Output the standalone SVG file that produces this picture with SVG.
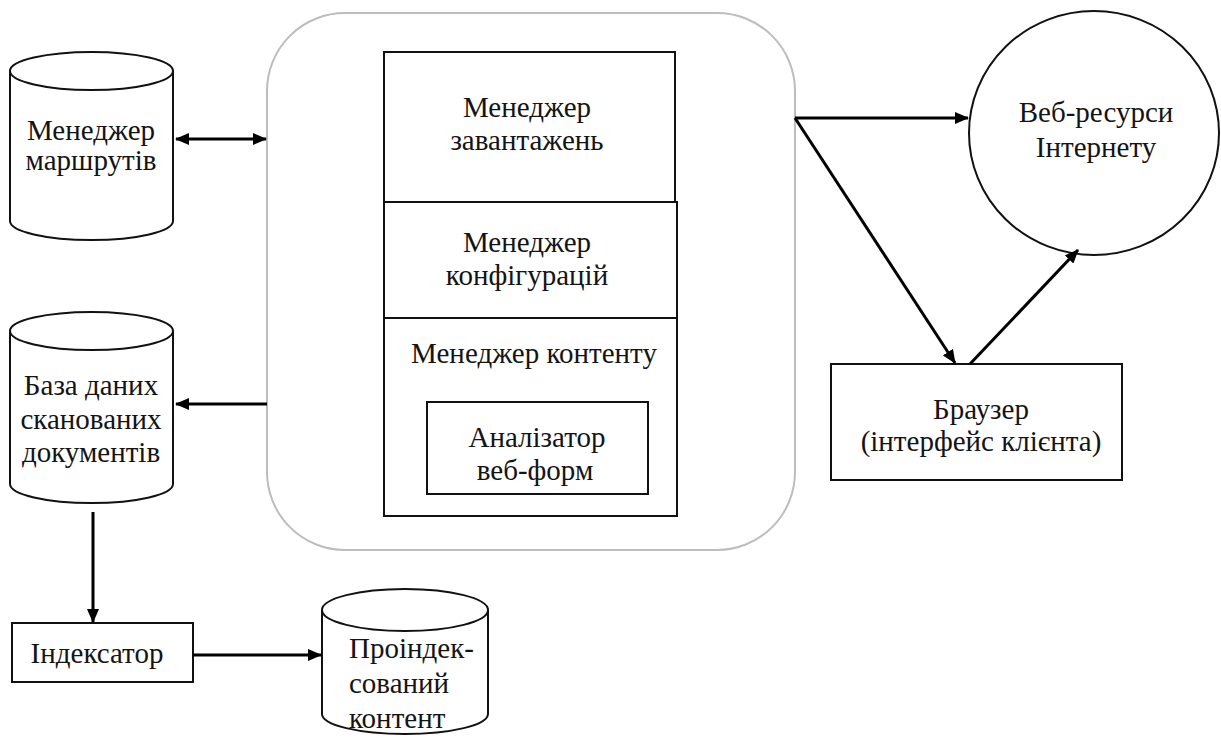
<svg xmlns="http://www.w3.org/2000/svg" width="1221" height="738" viewBox="0 0 1221 738">
  <style>
    .shape { fill: #ffffff; stroke: #111111; stroke-width: 2; }
    .frame { fill: #ffffff; stroke: #bdbdbd; stroke-width: 2; }
    .lbl { font-family: 'Liberation Serif', 'Times New Roman', 'DejaVu Serif', serif; font-size: 29px; fill: #141414; text-anchor: middle; }
    .lbl-left { text-anchor: start; }
    .edge { fill: none; stroke: #000000; stroke-width: 3; }
  </style>
  <defs>
    <marker id="arrow" viewBox="0 0 14 12" markerUnits="userSpaceOnUse" markerWidth="14" markerHeight="12" refX="13" refY="6" orient="auto-start-reverse">
      <path d="M0,0 L14,6 L0,12 z" fill="#000000"/>
    </marker>
  </defs>

  <!-- Route manager storage -->
  <g id="route-manager">
    <path class="shape" d="M10,71 L10,221 A81.5,19 0 0 0 173,221 L173,71"/>
    <ellipse class="shape" cx="91.5" cy="71" rx="81.5" ry="19"/>
    <text class="lbl" x="91" y="140">Менеджер</text>
    <text class="lbl" x="91" y="170">маршрутів</text>
  </g>

  <!-- Scanned documents database -->
  <g id="scanned-db">
    <path class="shape" d="M10,331 L10,484 A81.5,19 0 0 0 173,484 L173,331"/>
    <ellipse class="shape" cx="91.5" cy="331" rx="81.5" ry="19"/>
    <text class="lbl" x="91" y="395">База даних</text>
    <text class="lbl" x="91" y="429">сканованих</text>
    <text class="lbl" x="91" y="462">документів</text>
  </g>

  <!-- Indexer -->
  <g id="indexer">
    <rect class="shape" x="12" y="623" width="181" height="59"/>
    <text class="lbl" x="97" y="663">Індексатор</text>
  </g>

  <!-- Indexed content storage -->
  <g id="indexed-content">
    <path class="shape" d="M322,610 L322,714 A83,20 0 0 0 488,714 L488,610"/>
    <ellipse class="shape" cx="405" cy="610" rx="83" ry="21"/>
    <text class="lbl lbl-left" x="349" y="658">Проіндек-</text>
    <text class="lbl lbl-left" x="349" y="693">сований</text>
    <text class="lbl lbl-left" x="349" y="728">контент</text>
  </g>

  <!-- Crawler core: rounded frame with stacked managers -->
  <g id="crawler-core">
    <rect class="frame" x="267" y="13" width="528" height="537" rx="78" ry="78"/>
  </g>

  <g id="download-manager">
    <rect class="shape" x="384" y="52" width="291" height="150"/>
    <text class="lbl" x="527" y="117">Менеджер</text>
    <text class="lbl" x="527" y="150">завантажень</text>
  </g>

  <g id="config-manager">
    <rect class="shape" x="384" y="202" width="293" height="116"/>
    <text class="lbl" x="527" y="252">Менеджер</text>
    <text class="lbl" x="527" y="285">конфігурацій</text>
  </g>

  <g id="content-manager">
    <rect class="shape" x="384" y="318" width="293" height="198"/>
    <text class="lbl" x="534" y="363">Менеджер контенту</text>
  </g>

  <g id="form-analyzer">
    <rect class="shape" x="427" y="402" width="221" height="92"/>
    <text class="lbl" x="537" y="447">Аналізатор</text>
    <text class="lbl" x="535" y="480">веб-форм</text>
  </g>

  <!-- Internet web resources -->
  <g id="web-resources">
    <ellipse class="shape" cx="1094" cy="133" rx="125" ry="122"/>
    <text class="lbl" x="1096" y="122">Веб-ресурси</text>
    <text class="lbl" x="1096" y="157">Інтернету</text>
  </g>

  <!-- Browser (client interface) -->
  <g id="browser">
    <rect class="shape" x="831" y="364" width="291" height="116"/>
    <text class="lbl" x="981" y="419">Браузер</text>
    <text class="lbl" x="981" y="451">(інтерфейс клієнта)</text>
  </g>

  <!-- Connectors -->
  <g id="connectors">
    <line class="edge" x1="176" y1="139" x2="266" y2="139" marker-start="url(#arrow)" marker-end="url(#arrow)"/>
    <line class="edge" x1="267" y1="404" x2="176" y2="404" marker-end="url(#arrow)"/>
    <line class="edge" x1="93" y1="512" x2="93" y2="622" marker-end="url(#arrow)"/>
    <line class="edge" x1="193" y1="655" x2="321" y2="655" marker-end="url(#arrow)"/>
    <line class="edge" x1="795" y1="118" x2="968" y2="118" marker-end="url(#arrow)"/>
    <line class="edge" x1="795" y1="118" x2="955" y2="363" marker-end="url(#arrow)"/>
    <line class="edge" x1="970" y1="364" x2="1078" y2="250" marker-end="url(#arrow)"/>
  </g>
</svg>
